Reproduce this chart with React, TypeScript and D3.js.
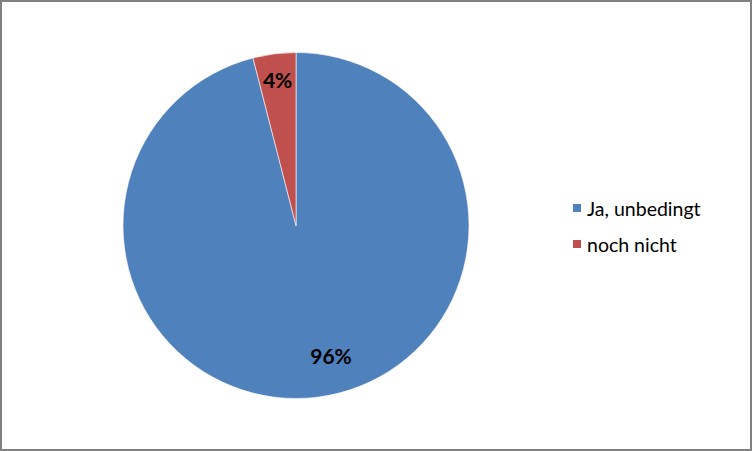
import { useMemo } from 'react';
import * as d3 from 'd3';

const categories = ['Ja, unbedingt', 'noch nicht'];
const values = [96, 4];
const labels = ['96%', '4%'];
const colors = ['#4F81BD', '#C0504D'];

const W = 753;
const H = 451;
const FONT = 'Lato, "Open Sans", sans-serif';

export default function App() {
  const cx = 296;
  const cy = 225.5;
  const r = 173;

  const arcs = useMemo(() => d3.pie<number>().sort(null).value(d => d)(values), []);
  const arc = d3.arc<d3.PieArcDatum<number>>().innerRadius(0).outerRadius(r);
  // small slice label sits near the rim, the big one lower down like Excel does
  const labelArc = d3.arc<d3.PieArcDatum<number>>().innerRadius(r * 0.85).outerRadius(r * 0.85);

  return (
    <svg width={W} height={H} style={{ position: 'fixed', left: 0, top: 0, background: '#fff' }}>
      <rect x={1} y={1} width={750} height={449} fill="#fff" stroke="#808080" strokeWidth={2} />
      <g transform={`translate(${cx},${cy})`}>
        {arcs.map((a, i) => (
          <path key={i} d={arc(a) || ''} fill={colors[i]} stroke="#fff" strokeWidth={0.6} />
        ))}
        {arcs.map((a, i) => {
          const [x, y] = i === 0 ? [35, 130] : labelArc.centroid(a);
          return (
            <text key={'t' + i} x={x} y={y} textAnchor="middle" dominantBaseline="central"
              fontFamily={FONT} fontWeight="bold" fontSize={21} fill="#000">
              {labels[i]}
            </text>
          );
        })}
      </g>
      <g fontFamily={FONT} fontSize={19.5} fill="#000">
        {categories.map((c, i) => (
          <g key={c} transform={`translate(573,${204 + i * 36})`}>
            <rect width={8} height={8} fill={colors[i]} />
            <text x={14} y={4} dominantBaseline="central">{c}</text>
          </g>
        ))}
      </g>
    </svg>
  );
}
